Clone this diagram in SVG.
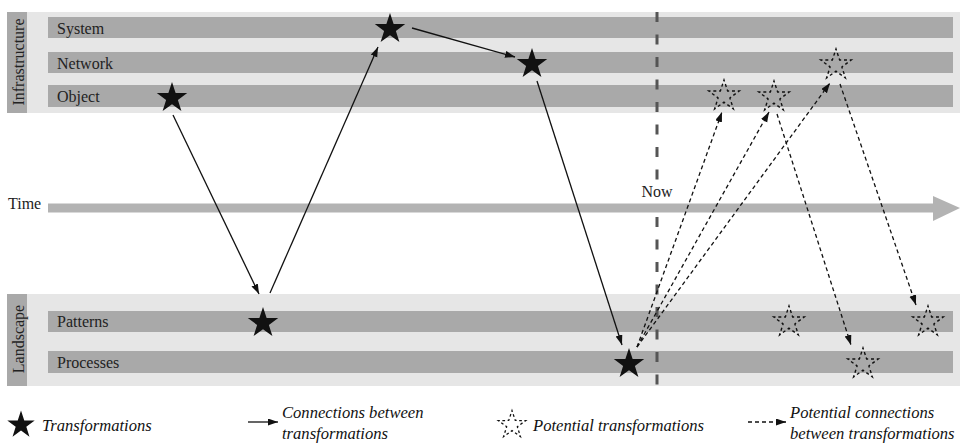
<svg xmlns="http://www.w3.org/2000/svg" width="962" height="444" viewBox="0 0 962 444">
<style>
.panel{fill:#e6e6e6}
.band{fill:#a9a9a9}
.lbl{font-family:"Liberation Serif","DejaVu Serif",serif;font-size:16px;fill:#222}
.leg{font-family:"Liberation Serif","DejaVu Serif",serif;font-size:16.6px;font-style:italic;fill:#111}
.solid{fill:#111}
.pot{fill:none;stroke:#111;stroke-width:1.4;stroke-dasharray:3 2.8;stroke-dashoffset:1.5}
.conn{stroke:#111;stroke-width:1.3;fill:none;marker-end:url(#ah)}
.pconn{stroke:#111;stroke-width:1.3;fill:none;stroke-dasharray:4 3;marker-end:url(#ah)}
.now{stroke:#555;stroke-width:3;stroke-dasharray:10 12.5}
</style>
<defs>
<path id="star" d="M0,-16 L3.64,-5.02 L15.22,-4.94 L5.9,1.92 L9.4,12.94 L0,6.2 L-9.4,12.94 L-5.9,1.92 L-15.22,-4.94 L-3.64,-5.02 Z"/>
<marker id="ah" markerUnits="userSpaceOnUse" markerWidth="11" markerHeight="8" refX="10" refY="3.5" orient="auto">
<path d="M0,0 L10,3.5 L0,7 Z" fill="#111"/>
</marker>
</defs>

<g id="infrastructure">
<rect class="panel" x="7" y="12" width="953" height="101"/>
<rect class="band" x="7" y="12" width="20" height="101"/>
<text class="lbl" transform="translate(24,62) rotate(-90)" text-anchor="middle">Infrastructure</text>
<rect class="band" x="48" y="17" width="905" height="21"/>
<rect class="band" x="48" y="52" width="905" height="21"/>
<rect class="band" x="48" y="85" width="905" height="22"/>
<text class="lbl" x="57" y="34">System</text>
<text class="lbl" x="57" y="69">Network</text>
<text class="lbl" x="57" y="102">Object</text>
</g>

<g id="landscape">
<rect class="panel" x="7" y="294" width="953" height="92"/>
<rect class="band" x="7" y="294" width="20" height="92"/>
<text class="lbl" transform="translate(24,339) rotate(-90)" text-anchor="middle">Landscape</text>
<rect class="band" x="48" y="311" width="905" height="21"/>
<rect class="band" x="48" y="351" width="905" height="22"/>
<text class="lbl" x="57" y="327">Patterns</text>
<text class="lbl" x="57" y="368">Processes</text>
</g>

<g id="time">
<text class="lbl" x="8" y="209">Time</text>
<rect x="48" y="203.5" width="886" height="9" fill="#b3b3b3"/>
<polygon points="933,196 960,208 933,221" fill="#b3b3b3"/>
</g>

<g id="now">
<line class="now" x1="657" y1="12" x2="657" y2="182"/>
<line class="now" x1="657" y1="217" x2="657" y2="386"/>
<text class="lbl" x="657" y="197" text-anchor="middle" fill="#444">Now</text>
</g>

<g id="t-object"><use href="#star" class="solid" x="172" y="98"/></g>
<g id="t-system"><use href="#star" class="solid" x="390" y="29"/></g>
<g id="t-network"><use href="#star" class="solid" x="532" y="64"/></g>
<g id="t-patterns"><use href="#star" class="solid" x="263" y="323"/></g>
<g id="t-processes"><use href="#star" class="solid" x="629" y="364"/></g>

<g id="p-object1"><use href="#star" class="pot" x="724" y="96"/></g>
<g id="p-object2"><use href="#star" class="pot" x="774" y="97"/></g>
<g id="p-network"><use href="#star" class="pot" x="836" y="65"/></g>
<g id="p-patterns1"><use href="#star" class="pot" x="789" y="322"/></g>
<g id="p-patterns2"><use href="#star" class="pot" x="928" y="322"/></g>
<g id="p-processes"><use href="#star" class="pot" x="863" y="364"/></g>

<g id="connectors">
<line class="conn" x1="173" y1="115" x2="259" y2="294"/>
<line class="conn" x1="270" y1="293" x2="378" y2="47"/>
<line class="conn" x1="412" y1="28" x2="515" y2="57"/>
<line class="conn" x1="537" y1="81" x2="622" y2="345"/>
<line class="pconn" x1="637" y1="347" x2="722" y2="112"/>
<line class="pconn" x1="637" y1="347" x2="769" y2="112"/>
<line class="pconn" x1="637" y1="347" x2="830" y2="83"/>
<line class="pconn" x1="777" y1="114" x2="851" y2="345"/>
<line class="pconn" x1="840" y1="84" x2="916" y2="305"/>
</g>

<g id="legend">
<use href="#star" class="solid" transform="translate(21,425) scale(0.9)"/>
<text class="leg" x="42" y="431">Transformations</text>
<line class="conn" x1="248" y1="422" x2="278" y2="422"/>
<text class="leg" x="282" y="418">Connections between</text>
<text class="leg" x="282" y="439">transformations</text>
<use href="#star" class="pot" transform="translate(512,425) scale(0.9)"/>
<text class="leg" x="533" y="431">Potential transformations</text>
<line class="pconn" x1="748" y1="422" x2="786" y2="422"/>
<text class="leg" x="790" y="418">Potential connections</text>
<text class="leg" x="790" y="439">between transformations</text>
</g>
</svg>
